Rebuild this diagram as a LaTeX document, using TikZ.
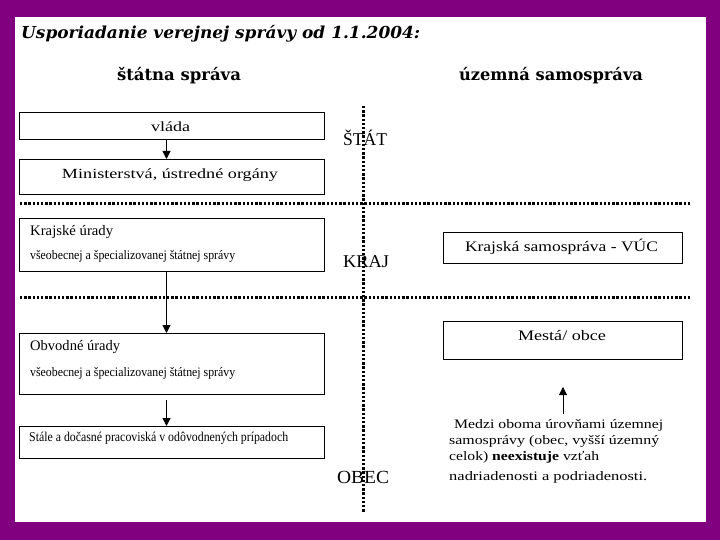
\documentclass[tikz,border=0pt]{standalone}
\usepackage{fontspec}
\usepackage{graphicx}
\setmainfont{Liberation Serif}
\newfontfamily\dvserif{DejaVu Serif}
\usetikzlibrary{arrows.meta}
\definecolor{frame}{RGB}{128,0,128}
\newcommand{\fitw}[2]{\resizebox{#1bp}{\height}{#2}}
\newcommand{\fsz}[1]{\fontsize{#1bp}{#1bp}\selectfont}
\tikzset{
  box/.style={draw=black, line width=1bp, inner sep=0pt, anchor=north west},
  lbl/.style={inner sep=0pt, anchor=west, text=black},
  ctr/.style={inner sep=0pt, anchor=center, text=black},
  arr/.style={draw=black, line width=1bp, -{Triangle[length=8bp,width=8bp]}},
  dotline/.style={draw=black, line width=3bp, dash pattern=on 2.4bp off 1.8bp}
}
\begin{document}
\begin{tikzpicture}[x=1bp,y=-1bp]
\useasboundingbox (0,0) rectangle (720,540);
\fill[frame] (0,0) rectangle (720,540);
\fill[white] (15,17) rectangle (706,522);

% title and headers
\node[lbl] (title) at (21,34) {\fitw{399}{\dvserif\bfseries\itshape\fsz{16.5}Usporiadanie verejnej správy od 1.1.2004:}};
\node[ctr] (hstat) at (179,76) {\fitw{124}{\dvserif\bfseries\fsz{16.5}štátna správa}};
\node[ctr] (huzem) at (551,76) {\fitw{184}{\dvserif\bfseries\fsz{16.5}územná samospráva}};

% separators
\draw[dotline] (363,106) -- (363,513);
\draw[dotline] (20,204) -- (690,204);
\draw[dotline] (20,297) -- (690,297);

% level labels
\node[ctr] (lstat) at (365,138) {\fitw{44}{\fsz{18}ŠTÁT}};
\node[ctr] (lkraj) at (366,262) {\fitw{46}{\fsz{18}KRAJ}};
\node[ctr] (lobec) at (363,477) {\fitw{52}{\fsz{18.5}OBEC}};

% left column boxes
\node[box, minimum width=305bp, minimum height=27bp] (vlada) at (19,112) {};
\node[box, minimum width=305bp, minimum height=35bp] (mini) at (19,159) {};
\node[box, minimum width=305bp, minimum height=53bp] (kraj) at (19,218) {};
\node[box, minimum width=305bp, minimum height=61bp] (obv) at (19,333) {};
\node[box, minimum width=305bp, minimum height=32bp] (stale) at (19,426) {};

\node[ctr] (tvlada) at (170.5,127) {\fitw{39}{\fsz{14}vláda}};
\node[ctr] (tmini) at (170,175) {\fitw{216}{\fsz{14}Ministerstvá, ústredné orgány}};
\node[lbl] (tkraj1) at (30,232) {\fitw{83}{\fsz{14.5}Krajské úrady}};
\node[lbl] (tkraj2) at (30,256) {\fitw{205}{\fsz{13}všeobecnej a špecializovanej štátnej správy}};
\node[lbl] (tobv1) at (30,347) {\fitw{90}{\fsz{14.5}Obvodné úrady}};
\node[lbl] (tobv2) at (30,373) {\fitw{205}{\fsz{13}všeobecnej a špecializovanej štátnej správy}};
\node[lbl] (tstale) at (29,438) {\fitw{259}{\fsz{13.5}Stále a dočasné pracoviská v odôvodnených prípadoch}};

% right column boxes
\node[box, minimum width=239bp, minimum height=31bp] (vuc) at (443,232) {};
\node[box, minimum width=239bp, minimum height=38bp] (mesta) at (443,321) {};
\node[ctr] (tvuc) at (561.5,247) {\fitw{193}{\fsz{14.5}Krajská samospráva - VÚC}};
\node[ctr] (tmesta) at (562,336) {\fitw{88}{\fsz{14.5}Mestá/ obce}};

% note
\node[lbl] (n1) at (454,425) {\fitw{209}{\fsz{13}Medzi oboma úrovňami územnej}};
\node[lbl] (n2) at (449,441) {\fitw{210}{\fsz{13}samosprávy (obec, vyšší územný}};
\node[lbl] (n3) at (449,457) {\fitw{150}{\fsz{13}celok) \textbf{neexistuje} vzťah}};
\node[lbl] (n4) at (449,477) {\fitw{198}{\fsz{13}nadriadenosti a podriadenosti.}};

% arrows
\draw[arr] ([xshift=-5.5bp]vlada.south) -- ([xshift=-5.5bp]mini.north);
\draw[arr] ([xshift=-5.5bp]kraj.south) -- ([xshift=-5.5bp]obv.north);
\draw[arr] ([xshift=-5.5bp,yshift=-5bp]obv.south) -- ([xshift=-5.5bp]stale.north);
\coordinate (upbase) at (563,414);
\coordinate (uptip) at (563,387);
\draw[arr] (upbase) -- (uptip);
\end{tikzpicture}
\end{document}
